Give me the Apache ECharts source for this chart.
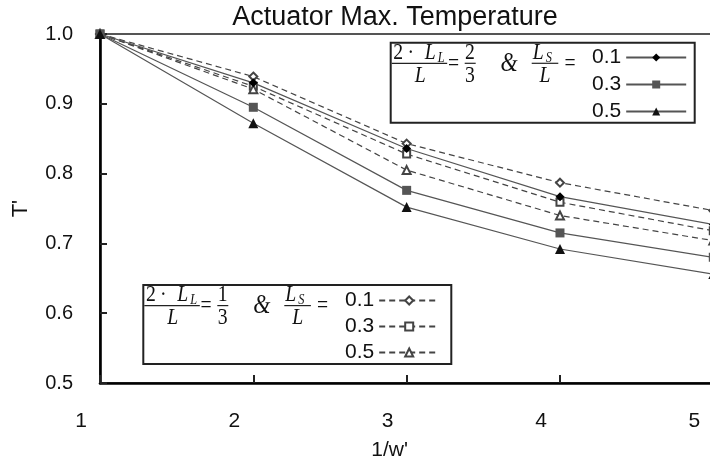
<!DOCTYPE html>
<html>
<head>
<meta charset="utf-8">
<script src="https://cdn.jsdelivr.net/npm/echarts@6/dist/echarts.min.js"></script>
<style>html,body{margin:0;padding:0;background:#fff;}#c{width:710px;height:461px;}</style>
</head>
<body>
<div id="c"></div>
<script>
// ---- data ----
var xValues = [1, 2, 3, 4, 5];
var xTicks = [1, 2, 3, 4, 5];
var yTicks = [0.5, 0.6, 0.7, 0.8, 0.9, 1.0];
// 2*LL/L = 2/3 (solid)
var solid01 = [1.0, 0.930, 0.836, 0.767, 0.727];
var solid03 = [1.0, 0.895, 0.776, 0.715, 0.680];
var solid05 = [1.0, 0.872, 0.752, 0.692, 0.656];
// 2*LL/L = 1/3 (dashed)
var dash01 = [1.0, 0.939, 0.843, 0.787, 0.747];
var dash03 = [1.0, 0.925, 0.828, 0.759, 0.718];
var dash05 = [1.0, 0.921, 0.805, 0.740, 0.704];
var ratioLabels = ['0.1', '0.3', '0.5'];

function pairs(ys) { return xValues.map(function (x, i) { return [x, ys[i]]; }); }

var chart = echarts.init(document.getElementById('c'), null, { renderer: 'canvas' });

function fractionBox(ox, oy, w, h, rhsNum, rhsDen) {
  var serif = 'Liberation Serif';
  function t(txt, x, y, size, italic, align) {
    return { type: 'text', x: ox + x, y: oy + y, scaleX: 0.82, style: {
      text: txt, fill: '#111', fontSize: size, fontFamily: serif,
      fontStyle: italic ? 'italic' : 'normal',
      align: align || 'center', verticalAlign: 'middle' } };
  }
  function bar(x1, x2, y) {
    return { type: 'line', shape: { x1: ox + x1, y1: oy + y, x2: ox + x2, y2: oy + y },
      style: { stroke: '#222', lineWidth: 1.2 } };
  }
  return [
    { type: 'rect', shape: { x: ox, y: oy, width: w, height: h },
      style: { fill: '#fff', stroke: '#222', lineWidth: 2 } },
    t('2', 7.5, 10, 24, false),
    t('\u00b7', 20, 10, 24, false),
    t('L', 34, 10, 24, true, 'left'),
    t('L', 47, 15, 15, true, 'left'),
    bar(1, 56.5, 20.6),
    t('L', 29.5, 33, 24, true),
    t('=', 62.8, 21, 24, false),
    t(rhsNum, 79.3, 10, 24, false),
    bar(74, 85, 20.6),
    t(rhsDen, 79.3, 33, 24, false),
    t('&', 118.5, 21, 27, true),
    t('L', 142, 10, 24, true, 'left'),
    t('S', 155, 15, 15, true, 'left'),
    bar(141, 167.6, 20.6),
    t('L', 154.3, 33, 24, true),
    t('=', 179.3, 21, 24, false)
  ];
}

function lineSeries(name, data, symbol, size, color, dashed) {
  return {
    name: name, type: 'line', data: pairs(data),
    symbol: symbol, symbolSize: size,
    itemStyle: { color: color, borderColor: dashed ? '#444' : color, borderWidth: dashed ? 1 : 0 },
    lineStyle: { color: dashed ? '#444' : '#555', width: 1.2, type: dashed ? [6, 4] : 'solid' },
    z: dashed ? 3 : 4
  };
}

var sans = 'Liberation Sans, Arial, sans-serif';

var option = {
  animation: false,
  backgroundColor: '#fff',
  title: {
    text: 'Actuator Max. Temperature', left: 395, top: 4, textAlign: 'center', padding: 0,
    textStyle: { fontFamily: sans, fontSize: 27, fontWeight: 'normal', color: '#111' }
  },
  grid: {
    left: 100, top: 34, width: 613.3, bottom: 78,
    containLabel: false, outerBoundsMode: 'none',
    show: true, borderColor: '#555', borderWidth: 2, backgroundColor: 'transparent'
  },
  xAxis: {
    type: 'value', min: xTicks[0], max: xTicks[xTicks.length - 1], interval: 1,
    name: "1/w'", nameLocation: 'middle', nameGap: 57,
    nameTextStyle: { fontFamily: sans, fontSize: 21, color: '#111', padding: [0, 34, 0, 0] },
    axisLine: { lineStyle: { color: '#000', width: 2.6 } },
    axisTick: { inside: true, length: 8, lineStyle: { color: '#222', width: 2 } },
    axisLabel: {
      margin: 28, color: '#111', fontFamily: sans, fontSize: 21,
      formatter: function (v) { return '{a|' + v + '}'; },
      rich: { a: { fontFamily: sans, fontSize: 21, color: '#111', padding: [0, 38, 0, 0] } }
    },
    splitLine: { show: false }
  },
  yAxis: {
    type: 'value', min: yTicks[0], max: yTicks[yTicks.length - 1], interval: 0.1,
    name: "T'", nameLocation: 'middle', nameGap: 68, nameRotate: 90,
    nameTextStyle: { fontFamily: sans, fontSize: 22, color: '#111' },
    axisLine: { show: true, lineStyle: { color: '#000', width: 2.6 } },
    axisTick: { show: true, inside: true, length: 7, lineStyle: { color: '#222', width: 2 } },
    axisLabel: { margin: 27, color: '#111', fontFamily: sans, fontSize: 20,
      formatter: function (v) { return v.toFixed(1); } },
    splitLine: { show: false }
  },
  legend: [
    {
      data: ratioLabels, orient: 'vertical', align: 'right', left: 592, top: 47, padding: 0,
      itemWidth: 60, itemHeight: 10, itemGap: 6,
      textStyle: { fontFamily: sans, fontSize: 21, color: '#111', lineHeight: 20 },
      selectedMode: false
    },
    {
      data: ratioLabels.map(function (s) { return s + ' '; }), orient: 'vertical', align: 'right',
      left: 345, top: 290, padding: 0, itemWidth: 60, itemHeight: 10, itemGap: 5,
      formatter: function (n) { return n.trim(); },
      textStyle: { fontFamily: sans, fontSize: 21, color: '#111', lineHeight: 20 },
      selectedMode: false
    }
  ],
  graphic: [].concat(
    fractionBox(390.7, 42.7, 304, 80, '2', '3'),
    fractionBox(143.3, 285, 308, 79, '1', '3')
  ).map(function (g) { g.z = 1; return g; }),
  series: [
    lineSeries('0.1 ', dash01, 'emptyDiamond', 8, '#444', true),
    lineSeries('0.3 ', dash03, 'emptyRect', 7, '#444', true),
    lineSeries('0.5 ', dash05, 'emptyTriangle', 8, '#444', true),
    lineSeries('0.1', solid01, 'diamond', 9, '#000', false),
    lineSeries('0.3', solid03, 'rect', 9, '#555', false),
    lineSeries('0.5', solid05, 'triangle', 10, '#111', false)
  ]
};
chart.setOption(option);
</script>
</body>
</html>
